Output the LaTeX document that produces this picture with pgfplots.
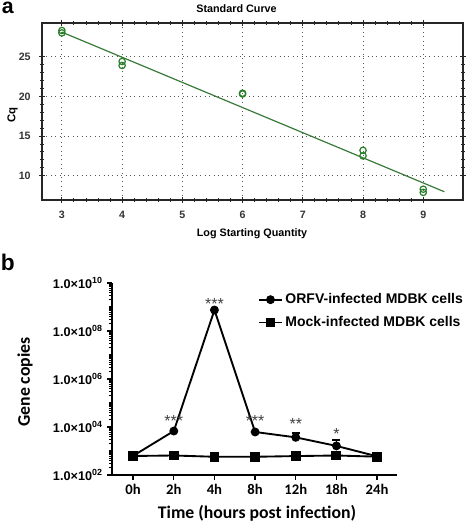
\documentclass[border=0pt]{standalone}
\usepackage{pgfplots}
\pgfplotsset{compat=1.18}
\usepackage{fontspec}
\setmainfont{Liberation Sans}
\newfontfamily\calfont{Carlito}
\definecolor{cgreen}{RGB}{40,128,40}
\definecolor{lgreen}{RGB}{56,122,56}

\begin{document}
\begin{tikzpicture}
\useasboundingbox (0,0) rectangle (354pt,-393pt);

% ---------------- panel a ----------------
\begin{axis}[
  at={(31.5pt,-150pt)}, anchor=south west, scale only axis,
  width=315.75pt, height=132.75pt,
  xmin=2.67, xmax=9.66, ymin=6.94, ymax=29.25,
  xtick={3,4,5,6,7,8,9}, ytick={10,15,20,25},
  minor x tick num=4, minor y tick num=4,
  grid=major,
  major grid style={black!65, line width=0.7pt, dash pattern=on 0.7pt off 2.6pt},
  axis line style={black!85, line width=1.1pt},
  every tick/.style={black!85, line width=0.7pt},
  major tick length=4pt, minor tick length=2.4pt,
  tick align=center,
  tick label style={font=\fontsize{8}{9}\selectfont\bfseries, text=black!80},
  xticklabel style={yshift=-3pt},
  yticklabel style={xshift=-3pt},
  /pgf/number format/assume math mode=true,
  clip=false,
]
\addplot[lgreen, line width=0.9pt] coordinates {(3,28.1) (9.35,7.98)};
\addplot[only marks, mark=o, mark size=2.4pt, cgreen, mark options={line width=0.9pt}]
  coordinates {(3,28.3) (3,28.0) (4,24.4) (4,23.9) (6,20.4) (6,20.3) (8,13.2) (8,12.5) (9,8.3) (9,7.9)};
\end{axis}

\node[font=\fontsize{8.1}{9}\selectfont\bfseries] at (177.4pt,-6.4pt) {Standard Curve};
\node[font=\fontsize{8.1}{9}\selectfont\bfseries] at (189pt,-175.5pt) {Log Starting Quantity};
\node[font=\fontsize{8.5}{9}\selectfont\bfseries, rotate=90] at (9.5pt,-86pt) {Cq};
\node[font=\fontsize{16}{17}\selectfont\bfseries, inner sep=0pt, anchor=base west] at (1.2pt,-10.3pt) {a};
\node[font=\fontsize{17}{18}\selectfont\bfseries, inner sep=0pt] at (5.8pt,-196.5pt) {b};

% ---------------- panel b ----------------
\begin{axis}[
  at={(84pt,-356.25pt)}, anchor=south west, scale only axis,
  width=213.75pt, height=144pt,
  ymode=log, ymin=1e2, ymax=1e10,
  xmin=-0.52, xmax=6.49,
  axis x line*=bottom, axis y line*=left,
  axis line style={line width=1.5pt},
  xtick={0,1,2,3,4,5,6}, xticklabels={0h,2h,4h,8h,12h,18h,24h},
  ytick={1e2,1e4,1e6,1e8,1e10},
  yticklabels={1.0×10\textsuperscript{02},1.0×10\textsuperscript{04},1.0×10\textsuperscript{06},1.0×10\textsuperscript{08},1.0×10\textsuperscript{10}},
  minor ytick={2e2,3e2,4e2,5e2,6e2,7e2,8e2,9e2,1e3,2e3,3e3,4e3,5e3,6e3,7e3,8e3,9e3,
    2e4,3e4,4e4,5e4,6e4,7e4,8e4,9e4,1e5,2e5,3e5,4e5,5e5,6e5,7e5,8e5,9e5,
    2e6,3e6,4e6,5e6,6e6,7e6,8e6,9e6,1e7,2e7,3e7,4e7,5e7,6e7,7e7,8e7,9e7,
    2e8,3e8,4e8,5e8,6e8,7e8,8e8,9e8,1e9,2e9,3e9,4e9,5e9,6e9,7e9,8e9,9e9},
  tick align=outside, major tick length=3.5pt, minor tick length=2pt,
  every tick/.style={black, line width=1pt},
  xticklabel style={font=\calfont\bfseries\fontsize{11}{12}\selectfont},
  yticklabel style={font=\bfseries\fontsize{9.5}{11}\selectfont},
  legend style={at={(0.512,0.96)}, anchor=north west, draw=none, fill=none,
    inner sep=0pt, row sep=4pt, font=\bfseries\fontsize{10.5}{12}\selectfont},
  legend cell align=left,
  clip=false,
]
\addplot[black, line width=1.4pt, mark=*, mark size=2.6pt,
  error bars/.cd, y dir=plus, y explicit, error bar style={line width=1.2pt}, error mark options={rotate=90, mark size=3pt, line width=1.2pt}]
  coordinates {(0,630) +- (0,0) (1,6800) +- (0,0) (2,7.5e8) +- (0,0) (3,6200) +- (0,0) (4,3700) +- (0,1900) (5,1630) +- (0,1270) (6,600) +- (0,0)};
\addlegendentry{ORFV-infected MDBK cells}
\addplot[black, line width=1.4pt, mark=square*, mark size=3pt]
  coordinates {(0,620) (1,650) (2,575) (3,575) (4,615) (5,650) (6,580)};
\addlegendentry{Mock-infected MDBK cells}

\node[font=\fontsize{12}{12}\selectfont, text=black!75] at (axis cs:1,1.7e4) {***};
\node[font=\fontsize{12}{12}\selectfont, text=black!75] at (axis cs:2,1.4e9) {***};
\node[font=\fontsize{12}{12}\selectfont, text=black!75] at (axis cs:3,1.7e4) {***};
\node[font=\fontsize{12}{12}\selectfont, text=black!75] at (axis cs:4,1.32e4) {**};
\node[font=\fontsize{12}{12}\selectfont, text=black!75] at (axis cs:5,5.0e3) {*};
\end{axis}

\node[font=\calfont\bfseries\fontsize{13.3}{14}\selectfont, rotate=90] at (18.75pt,-286.5pt) {Gene copies};
\node[font=\calfont\bfseries\fontsize{13.3}{14}\selectfont] at (192.75pt,-384.75pt) {Time (hours post infection)};
\end{tikzpicture}
\end{document}
